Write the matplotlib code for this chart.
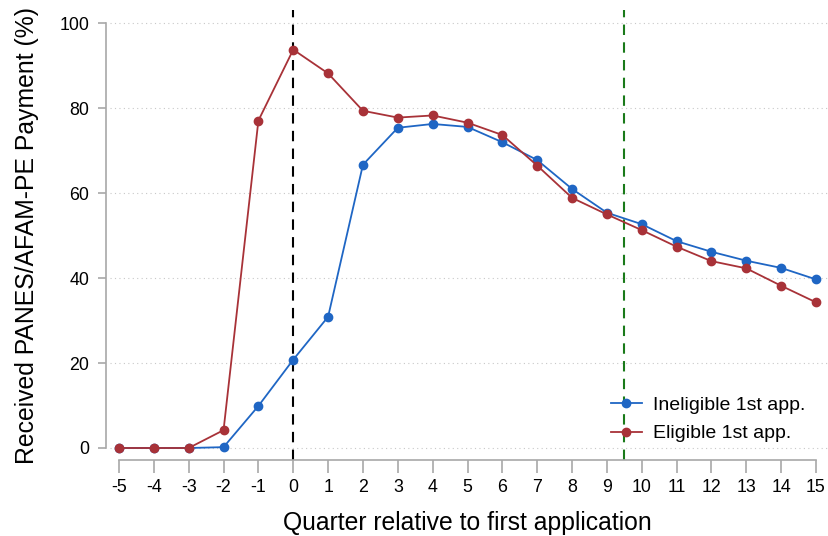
import matplotlib
matplotlib.use("Agg")
import matplotlib.pyplot as plt
from matplotlib import font_manager

# Quarters relative to the first application
quarters = list(range(-5, 16))

# Share receiving PANES/AFAM-PE payment (%)
ineligible = [0.0, 0.0, 0.0, 0.2, 9.9, 20.8, 30.9, 66.7, 75.4, 76.3, 75.6,
              72.0, 67.8, 61.0, 55.4, 52.7, 48.7, 46.2, 44.1, 42.4, 39.7]
eligible = [0.0, 0.0, 0.0, 4.2, 77.1, 93.8, 88.2, 79.4, 77.8, 78.3, 76.6,
            73.7, 66.5, 58.9, 55.0, 51.3, 47.4, 44.0, 42.3, 38.2, 34.3]

y_ticks = [0, 20, 40, 60, 80, 100]
series_labels = ["Ineligible 1st app.", "Eligible 1st app."]

available = {f.name for f in font_manager.fontManager.ttflist}
family = "Liberation Sans" if "Liberation Sans" in available else "DejaVu Sans"
plt.rcParams["font.family"] = [family, "DejaVu Sans"]
plt.rcParams["axes.unicode_minus"] = False

BLUE = "#1f66c4"
RED = "#a83238"

W, H = 829, 536
fig = plt.figure(figsize=(W / 100, H / 100), dpi=100)
left_px, right_px, top_px, bottom_px = 106, 829, 10, 460
ax = fig.add_axes([left_px / W, 1 - bottom_px / H,
                   (right_px - left_px) / W, (bottom_px - top_px) / H])

px_per_x = (816 - 119) / 20
px_per_y = (448 - 23.3) / 100
ax.set_xlim(-5 - (119 - left_px) / px_per_x, 15 + (right_px - 816) / px_per_x)
ax.set_ylim(-(bottom_px - 448) / px_per_y, 100 + (23.3 - top_px) / px_per_y)

for y in y_ticks:
    ax.axhline(y, color="#c8c8c8", lw=0.8, ls=(0, (1, 3)), zorder=0,
               xmin=4 / (right_px - left_px))

ax.axvline(0, color="black", lw=1.5, ls=(0, (5, 3.5)), zorder=1)
ax.axvline(9.5, color="#1a7a1a", lw=1.5, ls=(0, (5, 3.5)), zorder=1)

ax.plot(quarters, ineligible, color=BLUE, lw=1.3, marker="o", ms=6,
        label=series_labels[0], zorder=3)
ax.plot(quarters, eligible, color=RED, lw=1.3, marker="o", ms=6,
        label=series_labels[1], zorder=3)

for side in ("top", "right"):
    ax.spines[side].set_visible(False)
for side in ("left", "bottom"):
    ax.spines[side].set_color("#a8a8a8")
    ax.spines[side].set_linewidth(1.2)
ax.spines["left"].set_bounds(0, 100)
ax.spines["bottom"].set_bounds(-5, 15)

ax.set_xticks(quarters)
ax.set_yticks(y_ticks)
ax.tick_params(axis="x", length=9, width=1.2, color="#a8a8a8",
               labelsize=12.8, pad=5)
ax.tick_params(axis="y", length=6, width=1.2, color="#a8a8a8",
               labelsize=12.8, pad=6)

ax.set_xlabel("Quarter relative to first application", fontsize=17.8,
              labelpad=10.5)
ax.set_ylabel("Received PANES/AFAM-PE Payment (%)", fontsize=17.8,
              labelpad=15)

leg = ax.legend(loc="lower right", bbox_to_anchor=(0.992, 0.0),
                frameon=False, fontsize=14, handlelength=1.6,
                handletextpad=0.6, labelspacing=0.55)

fig.savefig("out.png", dpi=100)
